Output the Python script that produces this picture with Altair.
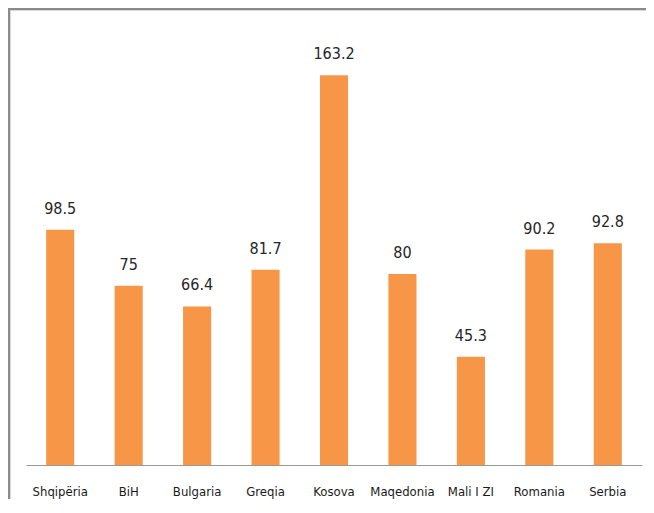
import altair as alt
import pandas as pd

countries = ["Shqipëria", "BiH", "Bulgaria", "Greqia", "Kosova",
             "Maqedonia", "Mali I ZI", "Romania", "Serbia"]
values = [98.5, 75, 66.4, 81.7, 163.2, 80, 45.3, 90.2, 92.8]

df = pd.DataFrame({
    "country": countries,
    "value": values,
    "label": [f"{v:g}" for v in values],
})

W, H = 616, 430
FONT = "DejaVu Sans Condensed"

x = alt.X("country:N", sort=countries, title=None,
          scale=alt.Scale(paddingInner=0.59, paddingOuter=0.295),
          axis=alt.Axis(labelAngle=0, ticks=False, labelPadding=20,
                        domainColor="#9a9a9a", domainWidth=1,
                        labelFont=FONT, labelFontSize=13, labelColor="#1a1a1a"))
y = alt.Y("value:Q", title=None, scale=alt.Scale(domain=[0, 180]), axis=None)

base = alt.Chart(df)
bars = base.mark_bar(color="#F79646").encode(x=x, y=y)
labels = base.mark_text(baseline="alphabetic", dy=-16, font=FONT, fontSize=16,
                        color="#262626").encode(x=x, y=y, text="label:N")

frame_top = alt.Chart(df).mark_rule(color="#8a8a8a", strokeWidth=2).encode(
    x=alt.value(-18), x2=alt.value(W + 4), y=alt.value(-26))
frame_top2 = alt.Chart(df).mark_rule(color="#d8d8d8", strokeWidth=1).encode(
    x=alt.value(-16), x2=alt.value(W + 4), y=alt.value(-24.5))
frame_left = alt.Chart(df).mark_rule(color="#8a8a8a", strokeWidth=2).encode(
    x=alt.value(-17), y=alt.value(-27), y2=alt.value(H + 40))
frame_left2 = alt.Chart(df).mark_rule(color="#d8d8d8", strokeWidth=1).encode(
    x=alt.value(-15.5), y=alt.value(-25), y2=alt.value(H + 40))

chart = alt.layer(bars, labels, frame_top, frame_top2, frame_left, frame_left2).properties(
    width=W, height=H,
    background="white",
    autosize=alt.AutoSizeParams(type="none"),
    padding={"left": 18, "top": 27, "right": 4, "bottom": 34},
).configure_view(strokeWidth=0, stroke="transparent")

chart.save("out.html", embed_options={"renderer": "svg", "actions": False})
